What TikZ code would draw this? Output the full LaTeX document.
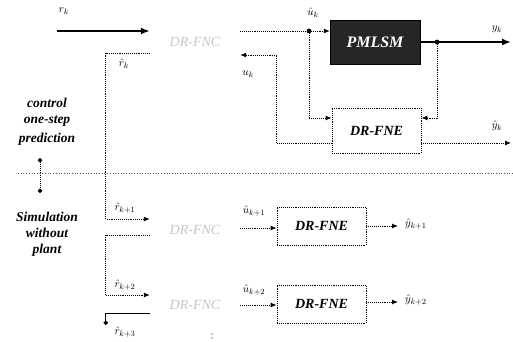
\documentclass[tikz,border=0pt]{standalone}
\usepackage{fontspec}
\setmainfont{Liberation Serif}
\usetikzlibrary{arrows.meta,calc}
\begin{document}
\begin{tikzpicture}[x=1pt,y=-1pt,
  thinln/.style={line width=0.9pt, densely dotted},
  arr/.style={-{Latex[length=6pt,width=5pt]}},
  tarr/.style={-{Latex[length=9pt,width=7pt]}},
  thickln/.style={line width=2.4pt},
  fnc/.style={minimum width=90pt, minimum height=24pt, inner sep=0pt, font=\itshape\fontsize{14}{14}\selectfont, text=gray!45},
  fne/.style={draw, densely dotted, line width=0.9pt, minimum width=89pt, inner sep=0pt, font=\bfseries\itshape\fontsize{14}{14}\selectfont},
  side/.style={font=\bfseries\itshape\fontsize{13.5}{13.5}\selectfont},
  lbl/.style={inner sep=0pt, font=\fontsize{11}{11}\selectfont},
  jdot/.style={fill=black}]
\useasboundingbox (0,0) rectangle (513,342);

% nodes
\node[fnc] (fnc1) at (195,42) {DR-FNC};
\node[fnc] (fnc2) at (195,230) {DR-FNC};
\node[fnc] (fnc3) at (195,305) {DR-FNC};
\node[draw=black, fill=black!85, minimum width=90pt, minimum height=44pt, inner sep=0pt,
      text=white, font=\bfseries\itshape\fontsize{16}{16}\selectfont] (pm) at (375,42) {PMLSM};
\node[fne, minimum height=45pt] (fne1) at (376.5,130.5) {DR-FNE};
\node[fne, minimum height=38pt] (fne2) at (321.5,226) {DR-FNE};
\node[fne, minimum height=38pt] (fne3) at (321.5,304) {DR-FNE};

\coordinate (rk0) at (57,31);
\coordinate (uh) at (309,31);
\coordinate (yj) at (437,42);
\coordinate (yend) at (511,42);
\coordinate (yhend) at (511,143);
\coordinate (y1end) at (398,226);
\coordinate (y2end) at (398,302);

% top row
\draw[thickln, tarr] (rk0) -- ([yshift=11pt]fnc1.west);
\draw[thinln] ([yshift=11pt]fnc1.east) -- (uh);
\draw[thinln, arr] (uh) -- ([yshift=11pt]pm.west);
\draw[thickln, tarr] (pm.east) -- (yend);
\fill[jdot] (uh) circle (2.4pt);
\fill[jdot] (yj) circle (2.4pt);
\draw[thinln, arr] (uh) |- ([yshift=12.5pt]fne1.west);
\draw[thinln, arr] (yj) |- ([yshift=12.5pt]fne1.east);
\draw[thinln, arr] ([yshift=-12.5pt]fne1.east) -- (yhend);
\draw[thinln, arr] ([yshift=-12.5pt]fne1.west) -- ++(-55,0) |- ([yshift=-13pt]fnc1.east);
\draw[thinln, arr] ([yshift=-11pt]fnc1.west) -- ++(-44,0) |- ([yshift=11pt]fnc2.west);

% second row
\draw[thinln, arr] ([yshift=-5pt]fnc2.west) -- ++(-44,0) |- ([yshift=10pt]fnc3.west);
\draw[thinln, arr] ([yshift=2pt]fnc2.east) -- ([yshift=-2pt]fne2.west);
\draw[thinln, arr] (fne2.east) -- (y1end);

% third row
\draw[line width=0.9pt, {Circle[length=4.5pt]}-] ([yshift=-8pt]fnc3.west) ++(-44,12) coordinate (r3dot) -- ++(0,-12) -- ([yshift=-8pt]fnc3.west);
\draw[thinln, arr] (fnc3.east) -- ([yshift=-1pt]fne3.west);
\draw[thinln, arr] ([yshift=2pt]fne3.east) -- (y2end);
\fill (212,334) circle (0.7pt);
\fill (212,338) circle (0.7pt);

% labels
\node[lbl] at (64,11) {$r_k$};
\node[lbl] at (313,13) {$\hat u_k$};
\node[lbl] at (497,29) {$y_k$};
\node[lbl] at (124,64) {$\hat r_k$};
\node[lbl] at (248,74) {$u_k$};
\node[lbl] at (497,126) {$\hat y_k$};
\node[lbl] at (125,208) {$\hat r_{k+1}$};
\node[lbl] at (254,211) {$\hat u_{k+1}$};
\node[lbl, anchor=west] at (405,224) {$\hat y_{k+1}$};
\node[lbl] at (125,285) {$\hat r_{k+2}$};
\node[lbl] at (254,290) {$\hat u_{k+2}$};
\node[lbl, anchor=west] at (405,300) {$\hat y_{k+2}$};
\node[lbl] at (125,332) {$\hat r_{k+3}$};

% left side
\node[side] (c1) at (47,103) {control};
\node[side] (c2) at (47,121) {one-step};
\node[side] (c3) at (47,139) {prediction};
\node[side] (s1) at (47,217) {Simulation};
\node[side] (s2) at (47,233) {without};
\node[side] (s3) at (47,250) {plant};
\coordinate (da) at (40,158);
\coordinate (db) at (40,193);
\draw[line width=0.9pt, densely dotted, {Circle[length=4.5pt]}-{Circle[length=4.5pt]}] (da) -- (db);
\coordinate (dl) at (18,173);
\coordinate (dr) at (513,173);
\draw[line width=0.7pt, dotted, black!65] (dl) -- (dr);
\end{tikzpicture}
\end{document}
